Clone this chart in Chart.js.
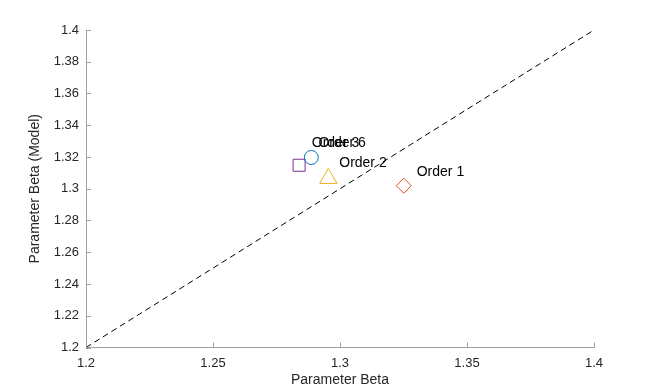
<!DOCTYPE html>
<html>
<head>
<meta charset="utf-8">
<script src="https://cdn.jsdelivr.net/npm/chart.js@4"></script>
<style>
html,body{margin:0;padding:0;background:#fff;}
canvas{display:block;}
</style>
</head>
<body>
<canvas id="c" width="654" height="392"></canvas>
<script>
// ---- data ----
const orderNames   = ["Order 1", "Order 2", "Order 3", "Order 6"];
const betaObserved = [1.3251, 1.2954, 1.2887, 1.2839];
const betaModel    = [1.3019, 1.3065, 1.3197, 1.3148];
const markerStyles = ["rectRot", "triangle", "circle", "rect"];
const markerColors = ["#D95319", "#EDB120", "#0072BD", "#7E2F8E"];
const labelTexts   = ["Order 1", "Order 2", "Order 3", "Order 6"];
const labelX       = [1.3302, 1.2997, 1.2889, 1.2915];
const labelY       = [1.3106, 1.3160, 1.3290, 1.3290];
const identityLine = [1.2, 1.4];
const tickValues   = [1.2, 1.22, 1.24, 1.26, 1.28, 1.3, 1.32, 1.34, 1.36, 1.38, 1.4];
const xTickValues  = [1.2, 1.25, 1.3, 1.35, 1.4];

const FONT = "'Liberation Sans', Arial, Helvetica, sans-serif";
const TEXT = "#262626";
const AXIS = "#a0a0a0";

const datasets = [{
  type: 'line',
  data: identityLine.map(v => ({x: v, y: v})),
  borderColor: '#000',
  borderWidth: 1,
  borderDash: [6, 4],
  pointRadius: 0,
  fill: false,
  order: 2
}];
betaObserved.forEach((bx, i) => {
  datasets.push({
    type: 'scatter',
    data: [{x: bx, y: betaModel[i]}],
    pointStyle: markerStyles[i],
    pointRadius: [7.5, 10, 7, 8.5][i],
    borderColor: markerColors[i],
    backgroundColor: 'rgba(0,0,0,0)',
    borderWidth: 1,
    order: 1
  });
});

const innerTicks = {
  id: 'innerTicks',
  afterDatasetsDraw(chart) {
    const {ctx, scales: {x, y}, chartArea: a} = chart;
    ctx.save();
    ctx.strokeStyle = AXIS;
    ctx.lineWidth = 1;
    ctx.beginPath();
    xTickValues.forEach(v => {
      const px = Math.round(x.getPixelForValue(v)) + 0.5;
      ctx.moveTo(px, a.bottom); ctx.lineTo(px, a.bottom - 5);
    });
    tickValues.forEach(v => {
      const py = Math.round(y.getPixelForValue(v)) + 0.5;
      ctx.moveTo(a.left, py); ctx.lineTo(a.left + 5, py);
    });
    ctx.stroke();
    // labels
    ctx.fillStyle = '#000';
    ctx.font = "14px " + FONT;
    ctx.textAlign = 'left';
    ctx.textBaseline = 'middle';
    labelTexts.forEach((t, i) => {
      ctx.fillText(t, x.getPixelForValue(labelX[i]), y.getPixelForValue(labelY[i]));
    });
    ctx.restore();
  }
};

new Chart(document.getElementById('c'), {
  data: { datasets },
  plugins: [innerTicks],
  options: {
    responsive: false,
    animation: false,
    devicePixelRatio: 1,
    layout: { padding: { left: 0, right: 60, top: 30, bottom: 0 } },
    plugins: { legend: { display: false }, tooltip: { enabled: false } },
    scales: {
      x: {
        type: 'linear',
        min: 1.2, max: 1.4,
        afterBuildTicks(s) { s.ticks = xTickValues.map(v => ({value: v})); },
        afterFit(s) { s.height = 44.5; },
        grid: { display: true, drawOnChartArea: false, drawTicks: false },
        border: { display: true, color: AXIS, width: 1 },
        ticks: { color: TEXT, font: { family: FONT, size: 13 }, padding: 8, maxRotation: 0,
          callback: v => String(+v.toFixed(2)) },
        title: { display: true, text: 'Parameter Beta', color: TEXT,
          font: { family: FONT, size: 14 }, padding: { top: 0, bottom: 3 } }
      },
      y: {
        type: 'linear',
        min: 1.2, max: 1.4,
        afterBuildTicks(s) { s.ticks = tickValues.map(v => ({value: v})); },
        afterFit(s) { s.width = 86; },
        grid: { display: true, drawOnChartArea: false, drawTicks: false },
        border: { display: true, color: AXIS, width: 1 },
        ticks: { color: TEXT, font: { family: FONT, size: 13 }, padding: 7,
          callback: v => String(+v.toFixed(2)) },
        title: { display: true, text: 'Parameter Beta (Model)', color: TEXT,
          font: { family: FONT, size: 14 }, padding: { top: 27, bottom: 0 } }
      }
    }
  }
});
</script>
</body>
</html>
